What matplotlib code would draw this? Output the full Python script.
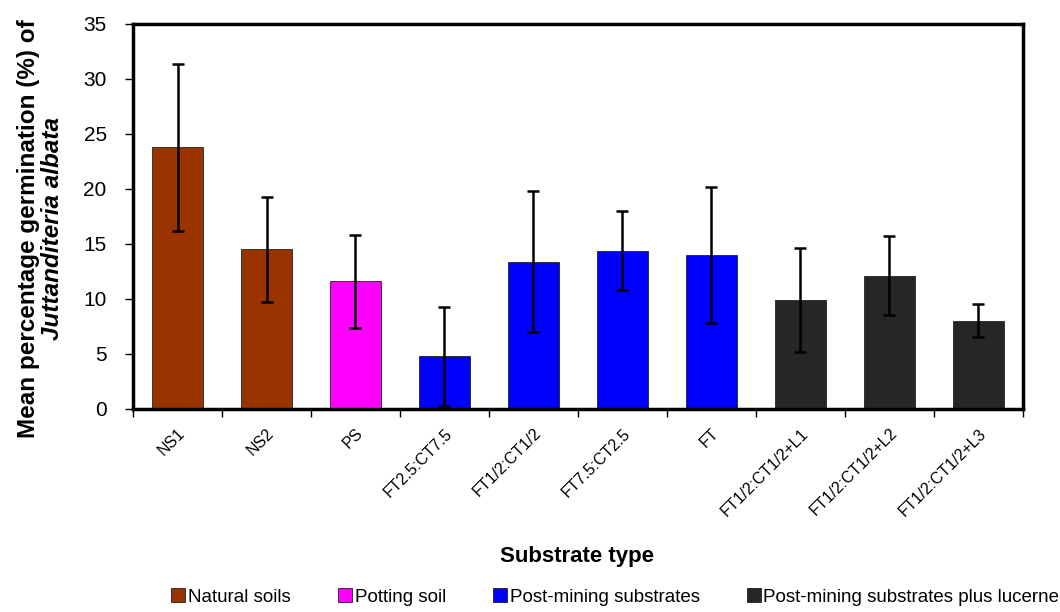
import matplotlib.pyplot as plt
from matplotlib.patches import Patch

plt.rcParams['font.family'] = ['Liberation Sans', 'DejaVu Sans']

# data
substrates = ['NS1', 'NS2', 'PS', 'FT2.5:CT7.5', 'FT1/2:CT1/2', 'FT7.5:CT2.5',
              'FT', 'FT1/2:CT1/2+L1', 'FT1/2:CT1/2+L2', 'FT1/2:CT1/2+L3']
means = [23.8, 14.5, 11.6, 4.8, 13.4, 14.4, 14.0, 9.9, 12.1, 8.0]
errors = [7.6, 4.8, 4.2, 4.5, 6.4, 3.6, 6.2, 4.7, 3.6, 1.5]
groups = [0, 0, 1, 2, 2, 2, 2, 3, 3, 3]

group_names = ['Natural soils', 'Potting soil', 'Post-mining substrates',
               'Post-mining substrates plus lucerne']
group_colors = ['#993300', '#ff00ff', '#0000ff', '#262626']

fig = plt.figure(figsize=(10.6, 6.12), dpi=100)
ax = fig.add_axes([0.1255, 0.3317, 0.8395, 0.6291])

x = list(range(len(substrates)))
bar_colors = [group_colors[g] for g in groups]
ax.bar(x, means, width=0.57, color=bar_colors, edgecolor='#222222', linewidth=0.6,
       yerr=errors, capsize=4.5,
       error_kw=dict(ecolor='black', elinewidth=1.8, capthick=1.8))

ax.set_xlim(-0.5, len(substrates) - 0.5)
ax.set_ylim(0, 35)
ax.set_yticks(range(0, 36, 5))
ax.tick_params(axis='y', labelsize=15, direction='out', length=6, width=1, pad=13)

# ticks between categories, labels centred on bars
ax.set_xticks([i - 0.5 for i in range(len(substrates) + 1)], minor=False)
ax.set_xticklabels([])
ax.set_xticks(x, minor=True)
ax.set_xticklabels(substrates, minor=True, rotation=45, ha='right',
                   rotation_mode='anchor', fontsize=11.5)
ax.tick_params(axis='x', which='major', direction='out', length=6, width=1)
ax.tick_params(axis='x', which='minor', length=0, pad=12)

for side in ['left', 'right', 'top', 'bottom']:
    ax.spines[side].set_linewidth(2.5)

fig.text(0.544, 0.09, 'Substrate type', ha='center', va='center',
         fontsize=16, fontweight='bold')

fig.text(0.027, 0.627, 'Mean percentage germination (%) of', rotation=90,
         ha='center', va='center', fontsize=17.5, fontweight='bold')
fig.text(0.050, 0.627, 'Juttanditeria albata', rotation=90, ha='center',
         va='center', fontsize=17.5, fontweight='bold', style='italic')

handles = [Patch(facecolor=c, edgecolor='#222222', linewidth=0.6) for c in group_colors]
fig.legend(handles, group_names, loc='center', bbox_to_anchor=(0.5805, 0.0245),
           ncol=4, frameon=False, fontsize=13.5, handlelength=0.75, handleheight=0.75,
           handletextpad=0.15, columnspacing=2.5, borderpad=0, borderaxespad=0)

fig.savefig('out.png', dpi=100)
